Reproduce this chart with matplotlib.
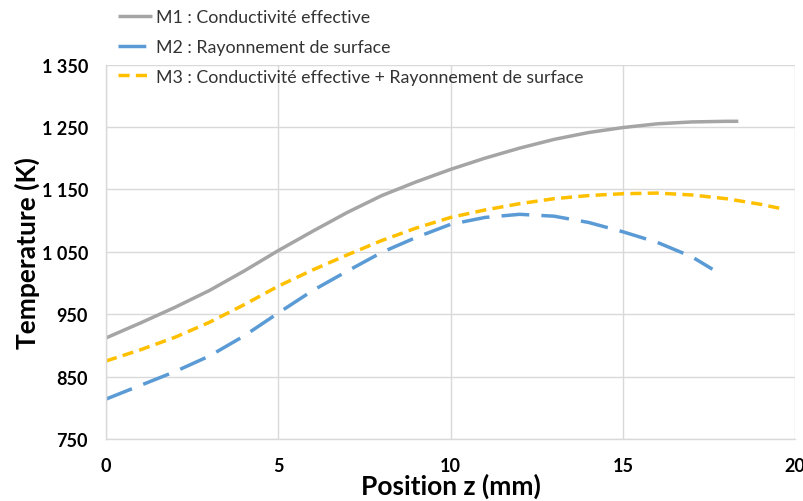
import matplotlib
matplotlib.use("Agg")
import matplotlib.pyplot as plt
from matplotlib.ticker import FuncFormatter, FixedLocator

# Data
z_m1 = [0, 1, 2, 3, 4, 5, 6, 7, 8, 9, 10, 11, 12, 13, 14, 15, 16, 17, 18, 18.35]
t_m1 = [912, 936, 961, 988, 1019, 1052, 1083, 1113, 1140, 1162, 1182, 1200, 1216, 1230, 1241, 1249, 1255, 1258, 1259, 1259]

z_m2 = [0, 1, 2, 3, 4, 5, 6, 7, 8, 9, 10, 11, 12, 13, 14, 15, 16, 17, 17.6]
t_m2 = [814, 836, 858, 883, 915, 952, 988, 1019, 1049, 1073, 1094, 1105, 1110, 1107, 1097, 1082, 1065, 1042, 1022]

z_m3 = [0, 1, 2, 3, 4, 5, 6, 7, 8, 9, 10, 11, 12, 13, 14, 15, 16, 17, 18, 19, 19.6]
t_m3 = [875, 893, 913, 937, 965, 995, 1021, 1045, 1068, 1088, 1105, 1117, 1127, 1135, 1140, 1143, 1144, 1141, 1135, 1126, 1119]

x_ticks = [0, 5, 10, 15, 20]
y_ticks = [750, 850, 950, 1050, 1150, 1250, 1350]

labels = ["M1 : Conductivité effective",
          "M2 : Rayonnement de surface",
          "M3 : Conductivité effective + Rayonnement de surface"]

FONT = ["Lato", "DejaVu Sans"]
plt.rcParams['font.family'] = FONT

fig = plt.figure(figsize=(8.04, 5.02), dpi=100)
ax = fig.add_axes([0.132, 0.1235, 0.857, 0.746])

ax.plot(z_m1, t_m1, color="#A5A5A5", lw=2.5, solid_capstyle="butt", label=labels[0])
ax.plot(z_m2, t_m2, color="#5B9BD5", lw=2.5, dashes=[8, 3.5], label=labels[1])
ax.plot(z_m3, t_m3, color="#FFC000", lw=2.5, dashes=[3.2, 1.8], label=labels[2])

ax.set_xlim(x_ticks[0], x_ticks[-1])
ax.set_ylim(y_ticks[0], y_ticks[-1])
ax.xaxis.set_major_locator(FixedLocator(x_ticks))
ax.yaxis.set_major_locator(FixedLocator(y_ticks))
ax.yaxis.set_major_formatter(FuncFormatter(lambda v, p: f"{int(v):,}".replace(",", " ")))

ax.grid(True, color="#d9d9d9", lw=1)
ax.set_axisbelow(True)
for s in ["top", "right"]:
    ax.spines[s].set_visible(False)
for s in ["left", "bottom"]:
    ax.spines[s].set_color("#d9d9d9")
    ax.spines[s].set_linewidth(1)

ax.tick_params(length=0, labelsize=13, colors="#000000")
ax.tick_params(axis="x", pad=13)
ax.tick_params(axis="y", pad=13)
for lab in ax.get_xticklabels() + ax.get_yticklabels():
    lab.set_fontweight("bold")

ax.set_xlabel("Position z (mm)", fontsize=19, fontweight="bold", labelpad=-1)
ax.set_ylabel("Temperature (K)", fontsize=19, fontweight="bold", labelpad=1)

leg = ax.legend(loc="upper left", bbox_to_anchor=(0.131, 1.005), bbox_transform=fig.transFigure,
                frameon=False, fontsize=12.8, handlelength=1.9, handletextpad=0.25,
                labelspacing=0.78, borderaxespad=0.3)
for t in leg.get_texts():
    t.set_color("#333333")

fig.savefig("out.png", dpi=100)
